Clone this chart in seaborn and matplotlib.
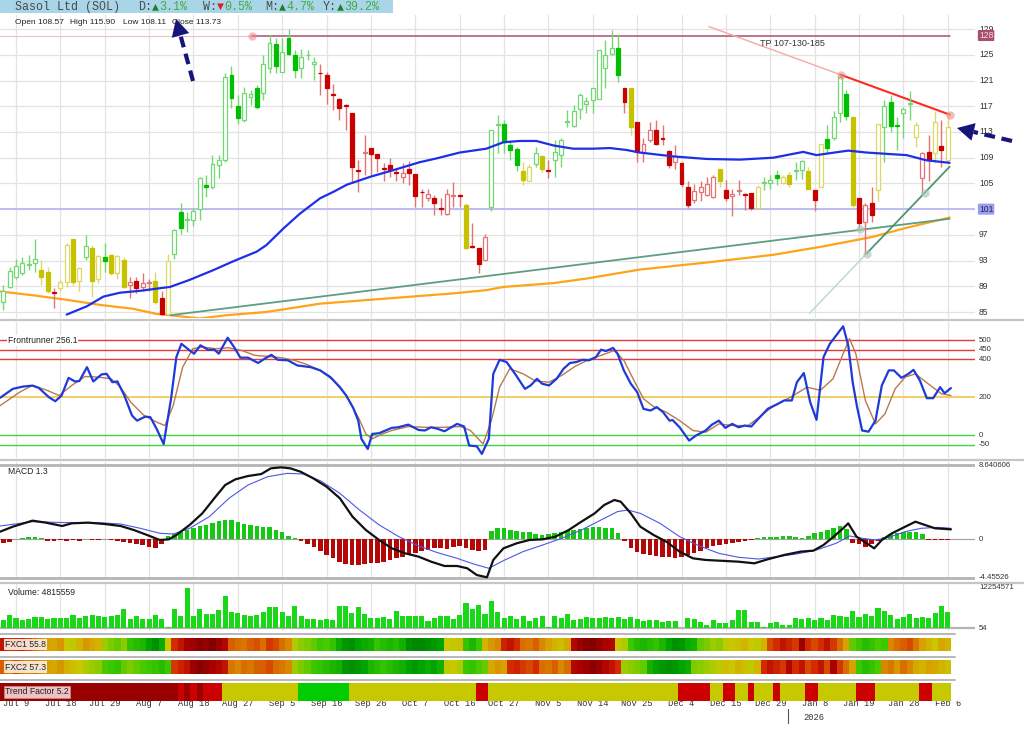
import numpy as np
import matplotlib
matplotlib.use("Agg")
import matplotlib.pyplot as plt
import matplotlib.transforms as mtransforms
from matplotlib.colors import LinearSegmentedColormap, ListedColormap
from matplotlib.lines import Line2D
from matplotlib.patches import Polygon, Rectangle
import seaborn as sns

# ---- daily candles (bar 0 = early July 2025, bar 149 = Feb 6 2026) ----
opens = [86.6, 88.9, 90.5, 91.0, 92.3, 92.7, 91.6, 91.3, 88.1, 88.8,
         89.7, 96.3, 89.8, 93.5, 94.9, 90.2, 93.5, 93.9, 91.1, 93.1,
         89.2, 89.9, 88.9, 89.5, 89.8, 87.2, 84.7, 94.1, 100.6, 99.3,
         99.3, 101.0, 104.8, 104.5, 107.9, 108.7, 121.9, 117.0, 114.9, 118.5,
         119.8, 119.0, 123.0, 126.7, 122.4, 127.6, 124.9, 123.0, 124.9, 123.5,
         122.2, 121.9, 118.8, 118.1, 117.1, 115.9, 107.0, 109.7, 110.5, 109.5,
         107.4, 107.9, 106.7, 106.0, 107.3, 106.4, 103.7, 102.8, 102.8, 101.1,
         100.2, 103.1, 103.2, 101.6, 95.2, 95.0, 93.1, 101.4, 114.1, 114.2,
         110.9, 110.3, 106.9, 105.4, 108.0, 109.2, 107.0, 108.7, 109.4, 114.5,
         114.0, 116.6, 117.3, 118.0, 118.1, 123.0, 125.1, 126.1, 119.8, 119.9,
         114.6, 109.9, 111.8, 113.3, 112.0, 110.0, 108.4, 108.1, 104.5, 102.4,
         103.7, 103.2, 102.9, 107.3, 104.0, 103.1, 103.8, 103.3, 103.5, 101.1,
         105.1, 105.0, 106.3, 105.0, 106.3, 107.0, 107.1, 106.9, 103.9, 104.5,
         111.9, 112.0, 116.0, 118.9, 115.4, 102.8, 99.0, 101.9, 104.0, 113.7,
         117.7, 114.1, 115.9, 117.4, 112.2, 105.9, 109.9, 109.7, 110.8, 108.57]
highs = [89.2, 92.0, 93.3, 93.6, 93.9, 96.4, 93.1, 92.0, 88.7, 90.0,
         95.7, 96.4, 92.0, 96.9, 95.4, 93.9, 95.7, 94.0, 93.9, 93.6,
         90.5, 90.5, 91.0, 90.2, 91.2, 88.2, 94.1, 97.9, 101.9, 100.6,
         101.1, 106.0, 106.3, 109.4, 109.4, 122.1, 123.2, 118.7, 120.0, 119.6,
         120.3, 125.0, 128.1, 127.6, 127.6, 129.0, 125.7, 125.9, 125.7, 124.7,
         123.5, 122.4, 120.4, 118.3, 117.4, 115.9, 108.6, 112.5, 110.5, 109.5,
         108.1, 108.9, 107.3, 108.1, 108.5, 106.4, 104.2, 104.2, 103.2, 102.7,
         104.1, 105.2, 103.4, 101.9, 98.9, 95.0, 97.2, 113.3, 115.6, 114.9,
         111.7, 110.7, 108.4, 108.0, 110.7, 109.3, 108.6, 111.7, 112.0, 116.4,
         117.2, 119.0, 118.5, 119.9, 125.7, 127.3, 128.9, 128.3, 119.8, 119.9,
         114.6, 112.0, 114.6, 114.9, 114.1, 110.2, 110.9, 108.4, 105.3, 104.9,
         105.3, 106.0, 106.3, 107.3, 105.5, 104.2, 105.5, 103.5, 103.5, 104.8,
         106.0, 106.3, 107.1, 106.3, 106.8, 108.4, 108.6, 107.6, 104.0, 111.1,
         114.1, 116.3, 122.0, 119.5, 115.4, 102.8, 101.9, 104.5, 114.3, 118.0,
         118.7, 115.4, 116.9, 119.4, 114.5, 109.9, 112.5, 116.3, 114.9, 115.90]
lows = [85.3, 88.7, 90.2, 90.8, 91.5, 91.3, 89.2, 87.9, 85.7, 88.2,
        88.9, 89.2, 88.2, 93.1, 87.4, 89.5, 91.3, 90.8, 90.2, 88.7,
        87.2, 87.9, 88.2, 88.2, 86.3, 84.6, 84.6, 93.3, 97.2, 97.5,
        98.3, 99.3, 102.9, 104.2, 105.9, 108.4, 116.7, 114.3, 114.6, 117.2,
        116.6, 118.0, 122.1, 122.1, 122.3, 125.0, 121.4, 121.4, 124.2, 121.1,
        118.7, 117.3, 116.4, 114.9, 113.3, 105.0, 103.7, 106.3, 106.3, 106.8,
        105.3, 106.0, 105.3, 105.0, 104.8, 101.4, 101.4, 102.3, 100.1, 100.1,
        100.1, 101.4, 101.4, 94.8, 95.0, 91.0, 93.1, 100.7, 109.7, 109.7,
        108.6, 106.9, 104.7, 105.3, 107.6, 106.8, 105.9, 106.0, 107.6, 113.8,
        113.8, 115.0, 115.9, 115.9, 118.1, 119.9, 125.0, 120.8, 116.0, 112.6,
        108.4, 108.4, 111.5, 111.0, 111.0, 107.4, 107.2, 104.5, 101.1, 101.9,
        102.3, 103.1, 102.8, 104.5, 102.2, 100.0, 103.2, 100.9, 100.9, 101.0,
        104.0, 104.1, 104.8, 104.9, 104.5, 105.5, 105.7, 104.1, 100.7, 104.4,
        109.7, 111.8, 114.6, 114.9, 101.4, 97.7, 94.1, 99.0, 102.2, 108.4,
        113.0, 110.2, 112.0, 114.9, 110.7, 103.4, 105.4, 108.1, 107.6, 108.11]
closes = [88.2, 91.4, 92.2, 92.7, 92.4, 93.2, 90.5, 88.2, 88.0, 89.7,
          95.5, 89.7, 91.8, 95.3, 89.8, 93.7, 93.0, 91.1, 93.7, 88.9,
          89.7, 88.7, 89.5, 89.6, 86.6, 84.7, 92.9, 97.7, 98.1, 99.4,
          100.7, 105.8, 104.5, 108.0, 108.7, 121.5, 118.3, 115.1, 119.1, 118.9,
          116.9, 123.5, 126.8, 123.3, 125.4, 125.2, 122.6, 124.7, 125.0, 123.9,
          122.1, 119.9, 118.7, 116.8, 117.0, 107.6, 106.9, 109.9, 109.5, 108.9,
          107.3, 107.1, 106.6, 106.6, 106.6, 103.1, 103.6, 103.3, 101.9, 101.0,
          103.3, 103.2, 103.1, 95.0, 95.1, 92.4, 96.6, 113.3, 114.2, 111.5,
          110.2, 107.8, 105.5, 107.6, 109.7, 107.3, 106.9, 109.9, 111.8, 114.6,
          116.3, 118.7, 117.8, 119.9, 125.7, 124.9, 126.1, 121.9, 117.7, 113.7,
          109.9, 111.2, 113.3, 111.2, 111.9, 107.9, 109.3, 104.9, 101.6, 103.8,
          104.4, 104.9, 106.0, 105.4, 102.7, 103.4, 103.9, 103.2, 101.1, 104.5,
          105.2, 105.5, 105.8, 106.0, 104.9, 107.1, 108.5, 104.2, 102.4, 111.1,
          110.5, 115.4, 121.6, 115.5, 101.6, 98.8, 101.6, 100.1, 114.3, 117.0,
          114.0, 114.0, 116.6, 117.5, 114.1, 109.7, 108.6, 114.6, 110.2, 113.73]
# candle trend colour: g = up, y = neutral, r = down
candle_trend = ("gggggg" "yyr" "yyyy" "g" "yygyyy" "rrrr" "yry" + "g" * 23 + "r" * 23 + "y" + "rrr"
                + "ggggg" + "yygyr" + "g" * 11 + "ry" + "r" * 13 + "y" + "r" * 5 + "y" + "ggg" + "yy"
                + "gg" + "yry" + "gggg" + "y" + "rrr" + "y" + "ggggg" + "y" + "rr" + "y" + "r" + "y")

# ---- moving averages / drawn lines on the price panel (bar index, price) ----
ma_blue_x = [10, 13.2, 15.8, 18.4, 21.6, 24.7, 26.3, 29.4, 33.1, 36.3, 40, 41.5, 44.2, 46.8, 50,
             52.1, 54.2, 57.8, 62, 65.7, 68.4, 72, 76.2, 78.9, 81.5, 84.1, 86.8, 89.9, 93.1, 95.7,
             98.3, 100.4, 105.7, 111, 116.2, 121.5, 124.1, 126.2, 128.3, 130.4, 133.3, 136.2, 139.3,
             142.5, 145.6, 149.3]
ma_blue_v = [84.6, 85.9, 87.4, 88.0, 88.3, 88.7, 88.9, 90.0, 91.5, 92.9, 94.4, 95.4, 98.0, 100.3, 102.7,
             103.7, 104.8, 106.0, 107.2, 108.3, 108.9, 109.8, 110.4, 111.4, 111.6, 111.6, 110.9, 110.4, 110.4, 110.5,
             110.2, 109.8, 109.2, 108.8, 108.7, 109.0, 109.5, 109.9, 109.4, 109.7, 110.1, 109.8, 109.6,
             109.4, 108.6, 108.2]
ma_orange_x = [-0.5, 4.7, 10, 15.3, 20.5, 24.2, 26.3, 31, 35.2, 41.5, 50, 60.5, 71, 76.2, 78.9,
               86.8, 92, 100.4, 111, 121.5, 129.3, 134.6, 137.2, 142.5, 149.3]
ma_orange_v = [88.2, 87.6, 86.9, 86.1, 85.5, 84.7, 84.5, 84.0, 84.5, 85.0, 86.3, 87.1, 87.9, 88.4, 88.9,
               89.5, 90.2, 91.6, 92.7, 93.9, 95.2, 96.2, 96.7, 98.1, 99.7]
support_x = [26.3, 149.3]
support_v = [84.5, 99.5]
steep_faint_x = [127.2, 136.2]
steep_faint_v = [84.8, 94.1]
steep_x = [136.2, 149.3]
steep_v = [94.1, 107.6]
resist_faint_x = [111.3, 132.1]
resist_faint_v = [129.4, 121.9]
resist_x = [132.1, 149.3]
resist_v = [121.9, 115.7]
pivot_red_x = [39.2, 132.1, 149.3]
pivot_red_v = [128.0, 121.9, 115.7]
pivot_green_x = [135.2, 136.2, 145.4]
pivot_green_v = [97.9, 94.1, 103.5]
price_ticks = [85, 89, 93, 97, 101, 105, 109, 113, 117, 121, 125, 129]

# ---- Frontrunner oscillator ----
fr_x = [-0.5, 1.5, 3.1, 4.6, 5.6, 7.2, 8.2, 9.2, 10.3, 11.3,
        12.0, 13.2, 14.2, 15.5, 16.3, 17.2, 18.0, 19.1, 20.3, 21.1,
        22.4, 23.2, 24.2, 25.3, 26.5, 27.3, 28.1, 29.4, 30.1, 31.1,
        32.3, 33.3, 34.0, 35.4, 36.4, 37.4, 38.6, 40.2, 41.2, 42.3,
        43.3, 44.9, 46.4, 48.5, 50.0, 51.6, 53.1, 54.1, 55.2, 56.0,
        56.5, 57.5, 58.2, 59.3, 60.3, 61.3, 62.3, 63.9, 65.5, 66.5,
        67.5, 68.5, 69.6, 71.6, 72.7, 73.5, 74.7, 75.5, 76.6, 77.3,
        78.3, 79.4, 80.9, 82.3, 83.2, 84.2, 85.0, 86.1, 87.3, 88.4,
        89.4, 90.4, 91.4, 92.4, 93.5, 94.3, 95.1, 96.2, 96.9, 97.9,
        99.0, 100.0, 101.0, 102.1, 103.1, 104.1, 105.1, 105.6, 106.7, 108.2,
        109.3, 110.8, 111.8, 112.9, 113.9, 115.0, 116.0, 117.0, 118.0, 119.1,
        120.6, 122.2, 123.2, 124.4, 125.2, 126.3, 127.3, 128.3, 129.4, 130.4,
        131.4, 132.5, 133.3, 134.0, 134.7, 135.5, 136.5, 137.6, 138.6, 139.7,
        140.5, 141.7, 142.8, 143.6, 144.6, 145.7, 146.7, 147.8, 148.5, 149.5]
fr_v = [198, 245, 257, 262, 250, 201, 180, 210, 303, 284,
        286, 359, 284, 321, 324, 280, 284, 210, 105, 78,
        99, 96, 34, -45, 201, 412, 482, 447, 430, 474,
        451, 451, 430, 514, 465, 409, 409, 381, 403, 424,
        398, 395, 368, 359, 342, 307, 254, 210, 145, 78,
        -18, -71, 8, 12, 26, 40, 43, 57, 29, 26,
        43, 35, 22, 61, 47, -53, -57, -97, -18, 324,
        398, 386, 316, 245, 263, 298, 272, 263, 298, 351,
        381, 386, 398, 395, 412, 451, 444, 460, 430, 342,
        272, 228, 140, 131, 149, 122, 78, 81, 43, -27,
        0, 26, 57, 78, 40, 61, 43, 52, 47, 87,
        140, 166, 184, 184, 280, 328, 175, 82, 412, 482,
        526, 574, 474, 280, 149, 26, 20, 78, 263, 342,
        342, 303, 324, 345, 289, 196, 196, 254, 222, 249]
fr_sig_x = [-0.5, 2.6, 4.6, 6.7, 8.8, 10.8, 12.9, 14.9, 17.0, 18.5,
            20.1, 22.2, 24.2, 25.5, 26.8, 28.3, 29.9, 31.4, 33.5, 35.5,
            37.6, 39.7, 41.7, 43.8, 45.9, 47.9, 50.0, 52.1, 54.1, 56.0,
            57.2, 58.2, 59.8, 61.3, 63.9, 66.5, 69.6, 72.2, 73.7, 75.7,
            77.0, 78.3, 79.9, 82.0, 84.0, 86.1, 88.1, 90.2, 92.3, 94.3,
            96.4, 97.9, 99.5, 101.0, 102.6, 104.6, 106.7, 108.8, 110.8, 112.9,
            115.0, 117.5, 119.6, 121.6, 124.2, 126.8, 128.9, 130.9, 132.5, 133.5,
            134.5, 136.0, 137.6, 139.1, 140.7, 142.3, 143.9, 145.9, 148.0, 149.5]
fr_sig_v = [157, 228, 263, 240, 210, 263, 310, 307, 298, 254,
            175, 105, 70, 52, 157, 359, 456, 465, 456, 461,
            447, 421, 416, 409, 395, 373, 342, 289, 210, 96,
            8, -18, 8, 26, 47, 43, 43, 47, 26, -45,
            78, 254, 351, 324, 286, 280, 316, 363, 398, 421,
            447, 395, 289, 193, 152, 122, 78, 26, 17, 61,
            52, 52, 105, 157, 201, 254, 237, 298, 430, 509,
            430, 184, 61, 114, 245, 307, 324, 272, 219, 210]
fr_red_levels = [500, 450, 400]
fr_green_levels = [0, -50]

# ---- MACD ----
macd_x = [-0.5, 1.5, 4.6, 6.7, 9.3, 10.8, 13.4, 16.0, 18.5, 20.6,
          22.7, 24.7, 26.1, 27.3, 29.4, 31.4, 33.5, 35.0, 36.6, 38.6,
          40.7, 42.2, 43.8, 45.3, 46.9, 48.9, 51.0, 53.1, 55.1, 57.2,
          59.3, 61.3, 63.4, 65.5, 67.5, 69.6, 71.6, 73.2, 74.7, 76.3,
          77.3, 78.9, 81.0, 83.0, 85.1, 87.1, 89.2, 91.2, 93.3, 94.8,
          96.4, 97.4, 99.0, 100.5, 102.6, 104.6, 106.7, 108.8, 110.8, 112.9,
          116.0, 118.5, 120.6, 123.2, 125.8, 127.8, 129.4, 131.0, 132.5, 133.3,
          134.6, 136.2, 137.4, 138.6, 140.2, 142.3, 143.9, 145.4, 147.0, 149.5]
macd_v = [0.89, 1.47, 2.17, 1.94, 1.55, 1.86, 1.94, 1.78, 1.55, 1.08,
          0.50, -0.08, 0.0, 0.50, 1.67, 3.02, 4.96, 6.31, 6.97, 7.36,
          7.59, 8.25, 8.37, 8.25, 7.86, 7.09, 6.12, 4.77, 2.63, 1.08,
          -0.08, -1.05, -1.63, -2.01, -2.60, -3.10, -3.10, -3.37, -4.15, -4.42,
          -2.40, -1.05, -0.46, -0.08, 0.0, 0.31, 1.08, 2.05, 3.02, 3.99,
          4.57, 4.38, 3.02, 1.47, 0.50, -0.27, -1.43, -2.21, -2.40, -2.48,
          -2.60, -2.79, -2.32, -1.82, -1.43, -1.32, -0.66, 0.31, 1.28, 1.86,
          0.31, -0.46, -1.05, -0.08, 0.70, 1.47, 2.05, 1.67, 1.28, 1.16]
macd_sig_x = [-0.5, 4.6, 9.8, 14.9, 18.5, 21.6, 24.7, 26.8, 29.4, 32.5,
              35.6, 38.6, 41.7, 44.8, 47.4, 50.0, 53.1, 56.2, 59.3, 62.4,
              65.5, 68.5, 71.6, 74.2, 76.6, 78.9, 82.0, 85.1, 88.1, 91.2,
              94.3, 96.9, 98.5, 100.5, 103.6, 106.7, 109.8, 112.9, 116.0, 119.1,
              122.2, 125.2, 128.3, 131.4, 133.5, 135.5, 137.6, 139.7, 142.3, 144.8,
              147.4, 149.5]
macd_sig_v = [1.55, 2.05, 1.94, 1.94, 1.78, 1.28, 0.70, 0.62, 1.28, 2.63,
              4.77, 6.31, 7.28, 7.67, 7.59, 6.82, 5.35, 3.41, 1.67, 0.31,
              -0.77, -1.55, -2.21, -2.87, -3.37, -2.48, -1.43, -0.66, 0.12, 1.08,
              2.25, 3.22, 3.41, 3.02, 1.86, 0.31, -0.77, -1.63, -2.09, -2.29,
              -2.01, -1.70, -1.24, -0.46, 0.39, 0.12, -0.08, 0.23, 0.89, 1.28,
              1.39, 1.28]
macd_hist = [-0.4, -0.3, 0.05, 0.1, 0.3, 0.3, 0.2, -0.25, -0.25, -0.1,
             -0.2, -0.1, -0.2, 0.05, -0.1, -0.1, 0.05, -0.1, -0.2, -0.3,
             -0.4, -0.6, -0.7, -0.9, -1.0, -0.5, 0.4, 0.6, 0.9, 1.1,
             1.3, 1.5, 1.7, 1.9, 2.1, 2.3, 2.2, 2.0, 1.8, 1.7,
             1.5, 1.4, 1.4, 1.1, 0.9, 0.4, 0.1, -0.2, -0.5, -0.9,
             -1.3, -1.8, -2.2, -2.6, -2.9, -3.0, -3.0, -2.9, -2.8, -2.7,
             -2.6, -2.4, -2.2, -2.0, -1.8, -1.6, -1.4, -1.2, -1.0, -1.0,
             -1.1, -0.9, -0.8, -1.0, -1.2, -1.3, -1.2, 1.0, 1.3, 1.3,
             1.1, 1.0, 0.9, 0.8, 0.6, 0.5, 0.6, 0.7, 0.9, 1.0,
             1.1, 1.2, 1.3, 1.4, 1.4, 1.3, 1.3, 0.7, -0.2, -1.0,
             -1.5, -1.7, -1.8, -1.9, -2.0, -2.1, -2.2, -2.0, -1.8, -1.6,
             -1.3, -1.0, -0.8, -0.7, -0.6, -0.4, -0.3, -0.2, -0.1, 0.2,
             0.3, 0.3, 0.3, 0.4, 0.4, 0.3, 0.2, 0.4, 0.7, 0.9,
             1.1, 1.3, 1.6, 1.2, -0.4, -0.6, -0.9, -0.5, -0.2, 0.3,
             0.6, 0.7, 0.8, 0.9, 0.8, 0.6, -0.1, -0.1, -0.1, -0.1]
macd_top, macd_bottom = 8.640606, -4.45526

# ---- volume (millions) ----
volume = [2.45, 4.1, 3.1, 2.45, 2.75, 3.3, 3.3, 2.75, 3.1, 3.1,
          3.1, 4.1, 3.1, 3.7, 4.0, 3.8, 3.5, 3.7, 4.0, 5.8,
          2.75, 3.6, 2.75, 2.75, 4.0, 2.75, 0.2, 5.7, 3.6, 12.25,
          3.6, 5.7, 4.3, 4.3, 5.6, 9.9, 4.8, 4.5, 4.1, 3.6,
          4.1, 4.8, 6.5, 6.3, 4.8, 3.6, 6.7, 3.6, 2.75, 2.75,
          2.45, 2.75, 2.45, 6.7, 6.7, 4.5, 6.3, 4.3, 3.1, 3.1,
          3.5, 2.75, 5.1, 3.6, 3.6, 3.8, 3.8, 2.0, 3.1, 3.7,
          3.7, 2.75, 4.1, 7.65, 5.8, 7.0, 4.3, 8.2, 4.8, 3.1,
          3.8, 2.75, 3.8, 2.2, 3.1, 3.6, 0.2, 3.6, 3.1, 4.3,
          2.45, 2.75, 3.3, 3.0, 3.0, 3.3, 3.0, 3.3, 2.75, 3.3,
          2.65, 2.0, 2.45, 2.45, 1.9, 2.0, 2.0, 0.0, 3.1, 2.65,
          1.9, 1.0, 2.55, 1.4, 1.4, 2.55, 5.6, 5.6, 1.9, 1.9,
          0.4, 1.4, 1.7, 1.0, 1.0, 3.0, 2.75, 3.1, 2.55, 3.0,
          2.55, 4.1, 3.6, 3.3, 5.3, 3.5, 4.3, 3.6, 6.1, 5.3,
          4.0, 2.75, 3.5, 4.3, 3.1, 3.3, 3.1, 4.5, 6.7, 4.82]
vol_top = 12.254571

# ---- heat strips (0 = strong green ... 100 = strong red) ----
fxc1 = [85, 80, 78, 82, 75, 70, 65, 60, 58, 62,
        50, 48, 55, 62, 58, 55, 42, 38, 35, 40,
        28, 25, 22, 15, 10, 18, 50, 80, 85, 90,
        92, 95, 93, 96, 92, 88, 72, 70, 68, 72,
        74, 70, 78, 75, 70, 65, 45, 40, 38, 35,
        30, 32, 28, 18, 12, 10, 15, 18, 20, 28,
        25, 22, 25, 20, 10, 8, 8, 10, 12, 15,
        50, 48, 52, 28, 22, 30, 55, 62, 65, 82,
        85, 80, 70, 68, 72, 65, 60, 55, 52, 58,
        88, 92, 95, 96, 93, 90, 88, 50, 45, 30,
        25, 22, 25, 28, 22, 15, 10, 12, 18, 20,
        35, 38, 42, 40, 48, 50, 52, 55, 50, 48,
        55, 75, 80, 85, 82, 78, 92, 80, 75, 80,
        85, 78, 70, 60, 35, 30, 25, 28, 32, 30,
        65, 70, 72, 75, 68, 60, 55, 50, 58, 55]
fxc2 = [72, 68, 75, 70, 65, 68, 62, 60, 58, 62,
        55, 52, 50, 45, 42, 40, 32, 30, 28, 35,
        38, 35, 32, 30, 28, 25, 30, 78, 82, 85,
        92, 95, 93, 90, 88, 85, 68, 65, 70, 68,
        72, 72, 75, 70, 68, 65, 42, 38, 35, 30,
        28, 25, 22, 20, 12, 10, 12, 15, 22, 25,
        28, 25, 22, 20, 15, 12, 15, 18, 15, 20,
        48, 50, 45, 30, 28, 32, 35, 58, 62, 60,
        80, 82, 78, 75, 80, 70, 68, 72, 65, 70,
        88, 90, 92, 95, 92, 88, 85, 80, 42, 40,
        38, 35, 20, 15, 12, 10, 12, 15, 18, 38,
        40, 42, 45, 48, 52, 50, 55, 52, 48, 55,
        80, 85, 82, 78, 88, 80, 85, 75, 80, 85,
        75, 90, 78, 70, 60, 30, 25, 28, 32, 65,
        68, 62, 70, 65, 58, 55, 60, 58, 55, 52]
# trend factor: D dark red, R red, Y yellow, G green
trend_factor = ("D" * 28 + "RDRDRRR" + "Y" * 12 + "G" * 8 + "Y" * 20 + "RR" + "Y" * 30 + "R" * 5
                + "YY" + "RR" + "YY" + "R" + "YYY" + "R" + "YYYY" + "RR" + "Y" * 6 + "RRR" + "Y" * 7
                + "RR" + "YYY")

date_labels = ["Jul 9", "Jul 18", "Jul 29", "Aug 7", "Aug 18", "Aug 27", "Sep 5", "Sep 16", "Sep 26",
               "Oct 7", "Oct 16", "Oct 27", "Nov 5", "Nov 14", "Nov 25", "Dec 4", "Dec 15", "Dec 29",
               "Jan 8", "Jan 19", "Jan 28", "Feb 6"]

# ------------------------------------------------------------------
sns.set_theme(style="white")
plt.rcParams["font.family"] = ["Liberation Sans", "DejaVu Sans"]
MONO = ["Liberation Mono", "DejaVu Sans Mono"]

W, H = 1024, 735
fig = plt.figure(figsize=(W / 100, H / 100), dpi=100, facecolor="white")


def panel(top, bottom, left=0, right=975):
    return fig.add_axes([left / W, 1 - bottom / H, (right - left) / W, (bottom - top) / H])


X_LO, X_HI = -0.52, 153.3
n = len(closes)
idx = np.arange(n)
grid_idx = [2 + 7 * k for k in range(len(date_labels))]

ax_p = panel(15, 318)
ax_f = panel(322, 458)
ax_m = panel(462, 580)
ax_v = panel(584, 631)
ax_c1 = panel(638, 651)
ax_c2 = panel(660, 674)
ax_t = panel(683, 701)

for ax in (ax_p, ax_f, ax_m, ax_v):
    ax.set_xlim(X_LO, X_HI)
    ax.set_xticks(grid_idx)
    ax.tick_params(length=0, labelbottom=False, labelleft=False)
    ax.grid(True, axis="x", color="#e3e3e3", lw=0.9)
    for s in ax.spines.values():
        s.set_visible(False)
    ax.set_facecolor("white")


def rlabel(ax, y, s, size=6.2, color="#333333", **kw):
    ax.text(1.004, y, s, transform=ax.get_yaxis_transform(), ha="left", va="center",
            fontsize=size, color=color, clip_on=False, **kw)


# ---------------- price panel ----------------
ax_p.set_ylim(84.07, 131.19)
ax_p.set_yticks(price_ticks)
ax_p.grid(True, axis="y", color="#e3e3e3", lw=0.9)

ax_p.axhline(101, color="#b8b8f2", lw=1.3, zorder=1)
ax_p.plot([X_LO, pivot_red_x[0]], [128, 128], color="#ecc0c8", lw=0.8, zorder=1)
ax_p.plot([pivot_red_x[0], 149.4], [128, 128], color="#a8506e", lw=1.1, zorder=1)

sns.lineplot(x=ma_orange_x, y=ma_orange_v, ax=ax_p, color="#ffa31a", lw=1.6, estimator=None, sort=False, zorder=2)
sns.lineplot(x=support_x, y=support_v, ax=ax_p, color="#5f9e80", lw=1.3, estimator=None, zorder=2)
sns.lineplot(x=steep_faint_x, y=steep_faint_v, ax=ax_p, color="#bcdccc", lw=1.1, estimator=None, zorder=2)
sns.lineplot(x=steep_x, y=steep_v, ax=ax_p, color="#4f9474", lw=1.3, estimator=None, zorder=2)
sns.lineplot(x=resist_faint_x, y=resist_faint_v, ax=ax_p, color="#f2aaa8", lw=1.0, estimator=None, zorder=2)
sns.lineplot(x=resist_x, y=resist_v, ax=ax_p, color="#ff2a20", lw=1.5, estimator=None, zorder=2)
sns.lineplot(x=ma_blue_x, y=ma_blue_v, ax=ax_p, color="#1f2fe6", lw=1.6, estimator=None, sort=False, zorder=5)

fill_col = {"g": "#00bf00", "r": "#c80000", "y": "#c6c200"}
line_col = {"g": "#72d872", "r": "#e27474", "y": "#dcd866"}
o = np.array(opens)
c = np.array(closes)
up = c >= o
body_lo = np.minimum(o, c)
body_h = np.maximum(np.abs(c - o), 0.13)
wick_c = [line_col[k] for k in candle_trend]
face_c = ["white" if u else fill_col[k] for u, k in zip(up, candle_trend)]
edge_c = [line_col[k] if u else fill_col[k] for u, k in zip(up, candle_trend)]
ax_p.vlines(idx, lows, highs, colors=wick_c, lw=1.0, zorder=3)
ax_p.bar(idx, body_h, bottom=body_lo, width=0.62, color=face_c, edgecolor=edge_c, lw=0.9, zorder=4)

ax_p.scatter(pivot_red_x, pivot_red_v, s=36, color="#f08080", alpha=0.55, lw=0, zorder=6)
ax_p.scatter(pivot_green_x, pivot_green_v, s=36, color="#a8c8b8", alpha=0.65, lw=0, zorder=6)
ax_p.text(119.4, 126.8, "TP 107-130-185", fontsize=6.5, color="#333333", va="center", ha="left")

for t in price_ticks:
    rlabel(ax_p, t, str(t))
rlabel(ax_p, 128, "128", color="#f6d8e0",
       bbox=dict(boxstyle="round,pad=0.12", fc="#a8506e", ec="none"))
rlabel(ax_p, 101, "101", color="#2a2a5a",
       bbox=dict(boxstyle="round,pad=0.12", fc="#9c9cf0", ec="none"))

# ---------------- Frontrunner ----------------
ax_f.set_ylim(-118.5, 596.5)
ax_f.set_yticks([])
for lv in fr_red_levels:
    ax_f.axhline(lv, color="#e23b3b", lw=1.0, zorder=1)
ax_f.axhline(200, color="#f2c64a", lw=1.2, zorder=1)
for lv in fr_green_levels:
    ax_f.axhline(lv, color="#3ed63e", lw=1.0, zorder=1)
sns.lineplot(x=fr_sig_x, y=fr_sig_v, ax=ax_f, color="#b8794f", lw=1.0, estimator=None, sort=False, zorder=2)
sns.lineplot(x=fr_x, y=fr_v, ax=ax_f, color="#1e3ad8", lw=1.6, estimator=None, sort=False, zorder=3)
for lv in fr_red_levels + [200] + fr_green_levels:
    rlabel(ax_f, lv, str(lv), size=5.6)
ax_f.text(0.008, 500, "Frontrunner 256.1", transform=ax_f.get_yaxis_transform(), fontsize=6.2,
          color="#222222", va="center", ha="left", zorder=5,
          bbox=dict(boxstyle="square,pad=0.1", fc="white", ec="none"))

# ---------------- MACD ----------------
ax_m.set_ylim(-4.73, 8.99)
ax_m.set_yticks([])
ax_m.axhline(macd_top, color="#b4b4b4", lw=2.0, zorder=1)
ax_m.axhline(macd_bottom, color="#b4b4b4", lw=2.0, zorder=1)
ax_m.axhline(0, color="#a0a0a0", lw=0.8, zorder=1)
hist_col = ["#14c814" if h > 0 else "#b40808" for h in macd_hist]
ax_m.bar(idx, macd_hist, width=0.72, color=hist_col, lw=0, zorder=2)
sns.lineplot(x=macd_sig_x, y=macd_sig_v, ax=ax_m, color="#4a58e6", lw=0.8, estimator=None, sort=False, zorder=3)
sns.lineplot(x=macd_x, y=macd_v, ax=ax_m, color="#111111", lw=1.6, estimator=None, sort=False, zorder=4)
rlabel(ax_m, macd_top, "8.640606", size=5.6)
rlabel(ax_m, 0, "0", size=5.6)
rlabel(ax_m, macd_bottom, "-4.45526", size=5.6)
ax_m.text(0.008, 7.9, "MACD 1.3", transform=ax_m.get_yaxis_transform(), fontsize=6.2,
          color="#222222", va="center", ha="left")

# ---------------- Volume ----------------
ax_v.set_ylim(-0.9, 13.4)
ax_v.set_yticks([])
ax_v.axhline(0, color="#b4b4b4", lw=1.6, zorder=1)
ax_v.bar(idx, volume, width=0.8, color="#18d818", lw=0, zorder=2)
rlabel(ax_v, vol_top, "12254571", size=5.6)
rlabel(ax_v, 0, "54", size=5.6)
ax_v.text(0.008, 10.8, "Volume: 4815559", transform=ax_v.get_yaxis_transform(), fontsize=6.2,
          color="#222222", va="center", ha="left")

# ---------------- heat strips ----------------
fxc_cmap = LinearSegmentedColormap.from_list(
    "fxc", [(0.0, "#006a00"), (0.15, "#00a400"), (0.3, "#3cc800"), (0.42, "#9ccc00"),
            (0.5, "#cac800"), (0.6, "#d8a000"), (0.7, "#d86e00"), (0.8, "#d42a00"),
            (0.9, "#aa0000"), (1.0, "#6a0000")])
trend_codes = {"D": 0, "R": 1, "Y": 2, "G": 3}
trend_cmap = ListedColormap(["#990000", "#cc0000", "#c8c800", "#00cc00"])

sns.heatmap(np.array([fxc1]), ax=ax_c1, cmap=fxc_cmap, vmin=0, vmax=100, cbar=False,
            xticklabels=False, yticklabels=False)
sns.heatmap(np.array([fxc2]), ax=ax_c2, cmap=fxc_cmap, vmin=0, vmax=100, cbar=False,
            xticklabels=False, yticklabels=False)
sns.heatmap(np.array([[trend_codes[k] for k in trend_factor]]), ax=ax_t, cmap=trend_cmap,
            vmin=-0.5, vmax=3.5, cbar=False, xticklabels=False, yticklabels=False)
for ax, lab, fc, ec in ((ax_c1, "FXC1 55.8", "#fbefe6", "none"),
                        (ax_c2, "FXC2 57.3", "#fbefe6", "none"),
                        (ax_t, "Trend Factor 5.2", "#f6d8d8", "#c88888")):
    ax.set_xlim(X_LO + 0.5, X_HI + 0.5)
    ax.set_xlabel("")
    ax.set_ylabel("")
    for s in ax.spines.values():
        s.set_visible(False)
    ax.text(0.005, 0.5, lab, transform=ax.transAxes, fontsize=6.2, color="#222222", va="center",
            ha="left", bbox=dict(boxstyle="square,pad=0.15", fc=fc, ec=ec, lw=0.6, alpha=0.9))

# ---------------- separators ----------------
for y in (320, 459.5, 582.5):
    fig.add_artist(Line2D([0, 1], [1 - y / H] * 2, color="#c6c6c6", lw=1.6))
for y in (634, 656.5, 679.5):
    fig.add_artist(Line2D([0, 955 / W], [1 - y / H] * 2, color="#b8b8b8", lw=1.4))

# ---------------- date axis ----------------
xtrans = mtransforms.blended_transform_factory(ax_p.transData, fig.transFigure)
for gi, lab in zip(grid_idx, date_labels):
    ax_p.text(gi, 1 - 704 / H, lab, transform=xtrans, ha="center", va="center", fontsize=6.3,
              family=MONO, color="#333333", clip_on=False)
ax_p.plot([123.8, 123.8], [1 - 709 / H, 1 - 723 / H], transform=xtrans, color="#555555", lw=0.8,
          clip_on=False)
ax_p.text(127.9, 1 - 717 / H, "2026", transform=xtrans, ha="center", va="center", fontsize=6.3,
          family=MONO, color="#333333", clip_on=False)

# ---------------- header ----------------
fig.add_artist(Rectangle((0, 1 - 13 / H), 393 / W, 13 / H, transform=fig.transFigure,
                         color="#a9d5e8", lw=0))
title_parts = [(15, "Sasol Ltd (SOL)", "#4a4a4a"), (138, "D:", "#4a4a4a"), (152, "▲", "#1f7f1f"),
               (159, "3.1%", "#44aa44"), (203, "W:", "#4a4a4a"), (217, "▼", "#e01e1e"),
               (224, "0.5%", "#44aa44"), (265, "M:", "#4a4a4a"), (279, "▲", "#1f7f1f"),
               (286, "4.7%", "#44aa44"), (323, "Y:", "#4a4a4a"), (337, "▲", "#1f7f1f"),
               (344, "39.2%", "#44aa44")]
for x, s, col in title_parts:
    fig.text(x / W, 1 - 7 / H, s, fontsize=8.4, family=MONO, color=col, va="center", ha="left")
for x, s in ((15, "Open 108.57"), (70, "High 115.90"), (123, "Low 108.11"), (172, "Close 113.73")):
    fig.text(x / W, 1 - 23 / H, s, fontsize=6.0, color="#222222", va="center", ha="left")

# ---------------- hand-drawn arrows ----------------
navy = "#15157c"


def dashed_arrow(tail, tip, head_len=17, half_w=9):
    tx, ty = tail
    hx, hy = tip
    L = np.hypot(hx - tx, hy - ty)
    ux, uy = (hx - tx) / L, (hy - ty) / L
    bx, by = hx - head_len * ux, hy - head_len * uy
    px, py = -uy, ux
    fig.add_artist(Line2D([tx / W, bx / W], [1 - ty / H, 1 - by / H], color=navy, lw=3.0,
                          linestyle=(0, (2.6, 1.6)), solid_capstyle="butt"))
    pts = [(hx / W, 1 - hy / H), ((bx + half_w * px) / W, 1 - (by + half_w * py) / H),
           ((bx - half_w * px) / W, 1 - (by - half_w * py) / H)]
    fig.add_artist(Polygon(pts, closed=True, transform=fig.transFigure, color=navy, lw=0))


dashed_arrow((193, 81), (176, 19))
dashed_arrow((1012, 141), (957, 128))

fig.savefig("out.png", dpi=100, facecolor="white")
